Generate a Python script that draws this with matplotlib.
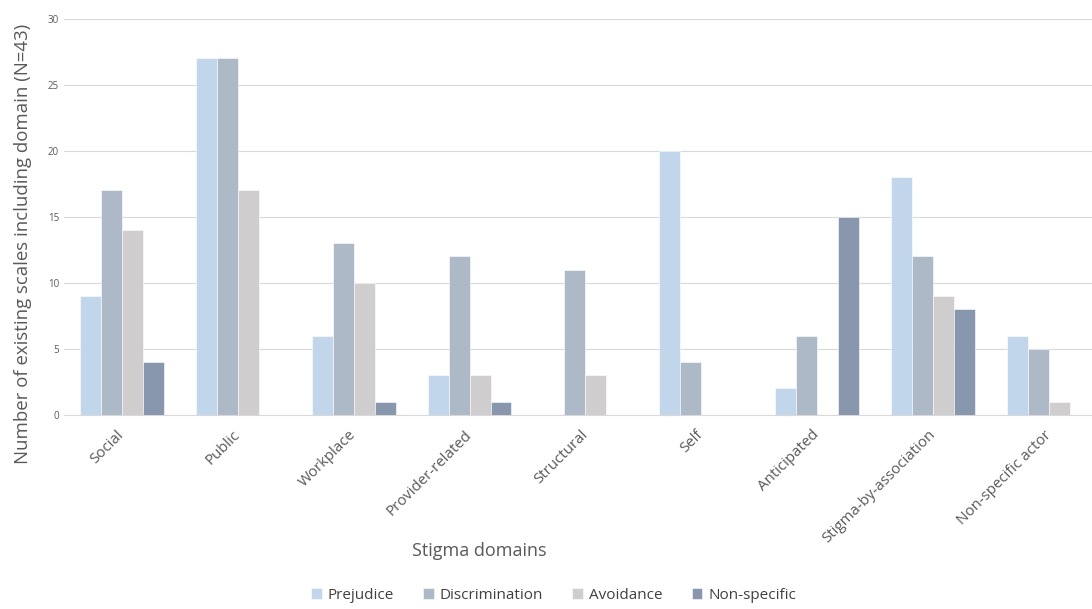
import matplotlib
matplotlib.use("Agg")
import matplotlib.pyplot as plt
import numpy as np

# stigma domains and counts per measurement type
domains = ["Social", "Public", "Workplace", "Provider-related", "Structural",
           "Self", "Anticipated", "Stigma-by-association", "Non-specific actor"]
prejudice = [9, 27, 6, 3, 0, 20, 2, 18, 6]
discrimination = [17, 27, 13, 12, 11, 4, 6, 12, 5]
avoidance = [14, 17, 10, 3, 3, 0, 0, 9, 1]
non_specific = [4, 0, 1, 1, 0, 0, 15, 8, 0]

series_names = ["Prejudice", "Discrimination", "Avoidance", "Non-specific"]
colors = ["#C2D6EB", "#AEB9C8", "#CFCDCE", "#8896AE"]

plt.rcParams["font.family"] = ["Open Sans", "DejaVu Sans"]

fig = plt.figure(figsize=(10.92, 6.09), dpi=100)
# plot area runs a bit past the right edge, like the original
ax = fig.add_axes([0.0586, 0.319, 0.955, 0.65])

x = np.arange(len(domains))
w = 0.181
all_vals = [prejudice, discrimination, avoidance, non_specific]
for i, vals in enumerate(all_vals):
    ax.bar(x + (i - 1.5) * w, vals, w, color=colors[i], label=series_names[i],
           edgecolor="white", linewidth=0.4, zorder=3)

ax.set_xlim(-0.5, len(domains) - 0.5)
ax.set_ylim(0, 30)
ax.set_yticks(range(0, 31, 5))
ax.grid(axis="y", color="#D9D9D9", linewidth=0.8, zorder=0)
for s in ["top", "right", "left"]:
    ax.spines[s].set_visible(False)
ax.spines["bottom"].set_color("#D9D9D9")
ax.tick_params(axis="both", length=0, colors="#595959")
ax.tick_params(axis="y", labelsize=7)
ax.tick_params(axis="x", pad=13)
ax.set_xticks(x)
ax.set_xticklabels(domains, rotation=45, ha="right", va="center",
                   rotation_mode="anchor", fontsize=10.8)

ax.set_ylabel("Number of existing scales including domain (N=43)", fontsize=13.4,
              color="#595959")
ax.yaxis.set_label_coords(-0.031, 0.432)
fig.text(0.4386, 0.095, "Stigma domains", fontsize=13, color="#595959",
         ha="center", va="center")

fig.legend(loc="lower center", bbox_to_anchor=(0.507, -0.012), ncol=4, frameon=False,
           fontsize=11, handlelength=0.7, handleheight=0.7, handletextpad=0.4,
           columnspacing=1.9, labelcolor="#404040")

fig.savefig("out.png", dpi=100)
